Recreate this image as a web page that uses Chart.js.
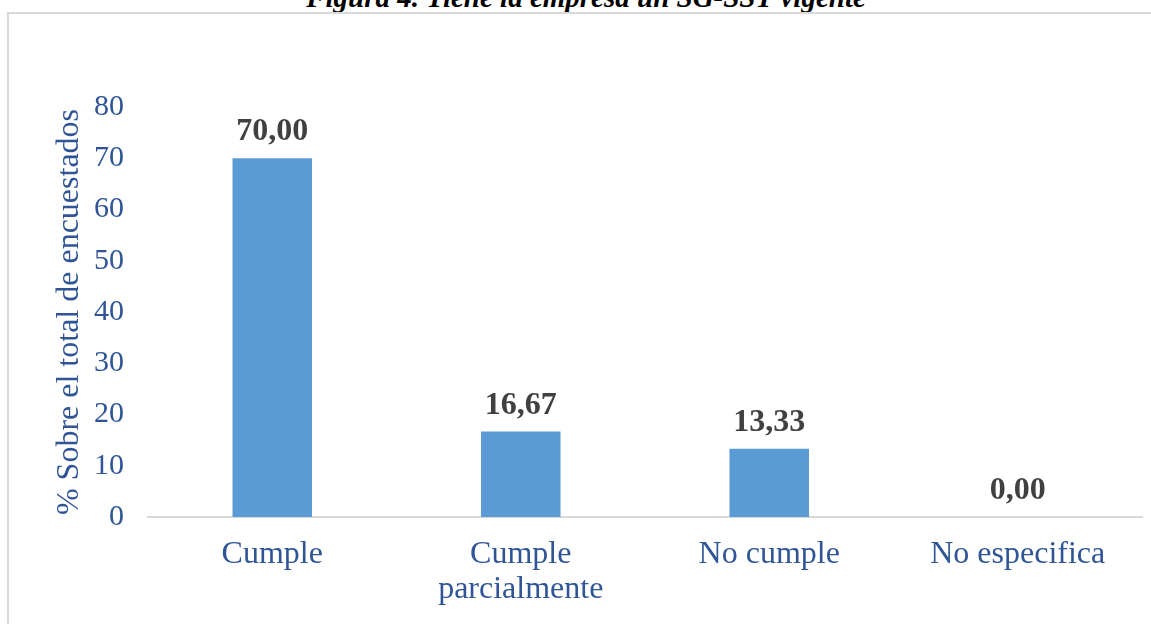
<!DOCTYPE html>
<html>
<head>
<meta charset="utf-8">
<script src="https://cdn.jsdelivr.net/npm/chart.js@4.4.0/dist/chart.umd.min.js"></script>
<style>
  body { margin: 0; background: #fff; overflow: hidden; }
  #titulo {
    position: absolute; left: 0; width: 1172px; top: -17px;
    text-align: center; font: italic bold 29px "Liberation Serif", serif;
    line-height: 29px; color: #000; white-space: nowrap;
  }
  #marco {
    position: absolute; left: 7px; top: 12px; width: 1200px; height: 700px;
    border: 2px solid #d9d9d9;
  }
  #grafico { position: absolute; left: 0; top: 0; }
</style>
</head>
<body>
<div id="titulo">Figura 4. Tiene la empresa un SG-SST vigente</div>
<div id="marco"></div>
<canvas id="grafico" width="1151" height="624"></canvas>
<script>
// datos
var categorias = ['Cumple', ['Cumple', 'parcialmente'], 'No cumple', 'No especifica'];
var porcentajes = [70.00, 16.67, 13.33, 0.00];
var ejeY = [0, 10, 20, 30, 40, 50, 60, 70, 80];

var azul = '#2f5597';
var fuente = '"Liberation Serif", "Times New Roman", serif';

// etiquetas encima de cada barra
const etiquetas = {
    id: 'etiquetas',
    afterDatasetsDraw: function (chart) {
        var ctx = chart.ctx;
        var meta = chart.getDatasetMeta(0);
        ctx.save();
        ctx.font = 'bold 32px ' + fuente;
        ctx.fillStyle = '#404040';
        ctx.textAlign = 'center';
        ctx.textBaseline = 'alphabetic';
        meta.data.forEach(function (bar, i) {
            var txt = porcentajes[i].toFixed(2).replace('.', ',');
            ctx.fillText(txt, bar.x, bar.y - 18);
        });
        ctx.restore();
    }
};

new Chart(document.getElementById('grafico'), {
    type: 'bar',
    data: {
        labels: categorias,
        datasets: [{
            data: porcentajes,
            backgroundColor: '#5b9bd5',
            barPercentage: 0.64,
            categoryPercentage: 0.5
        }]
    },
    options: {
        responsive: false,
        animation: false,
        layout: { padding: { left: 0, top: 107, right: 9, bottom: 0 } },
        plugins: {
            legend: { display: false },
            tooltip: { enabled: false }
        },
        scales: {
            x: {
                grid: { display: false, drawTicks: false },
                border: { display: true, color: '#d9d9d9', width: 2 },
                ticks: {
                    color: azul,
                    font: { family: fuente, size: 32, lineHeight: 1.1 },
                    padding: 20,
                    maxRotation: 0,
                    autoSkip: false
                },
                afterFit: function (scale) { scale.height = 107; }
            },
            y: {
                min: 0,
                max: 80,
                afterBuildTicks: function (scale) {
                    scale.ticks = ejeY.map(function (v) { return { value: v }; });
                },
                grid: { display: false, drawTicks: false },
                border: { display: false },
                ticks: {
                    color: azul,
                    font: { family: fuente, size: 30 },
                    padding: 24
                },
                title: {
                    display: true,
                    text: '% Sobre el total de encuestados',
                    color: azul,
                    font: { family: fuente, size: 32 },
                    padding: { top: 50, bottom: 0 }
                },
                afterFit: function (scale) { scale.width = 148; }
            }
        }
    },
    plugins: [etiquetas]
});
</script>
</body>
</html>
